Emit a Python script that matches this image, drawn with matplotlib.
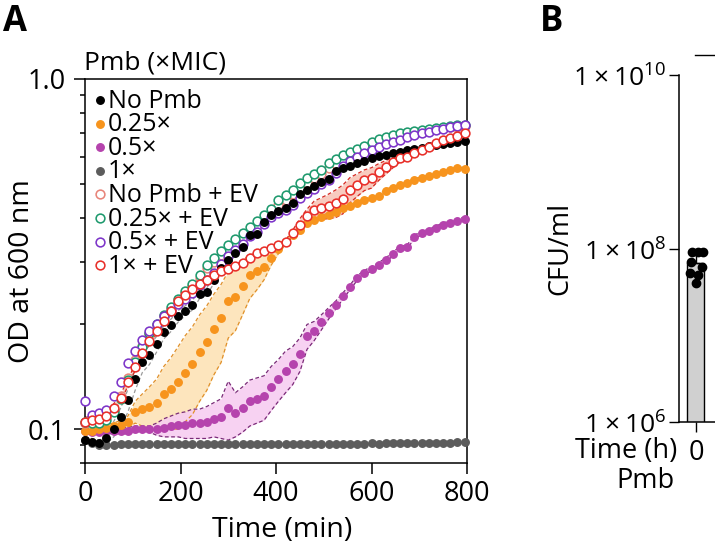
import numpy as np
import matplotlib
matplotlib.use("Agg")
import matplotlib.pyplot as plt
from matplotlib.lines import Line2D
from matplotlib.ticker import FixedLocator, FixedFormatter, NullFormatter

plt.rcParams['font.family'] = ['Open Sans', 'DejaVu Sans']
plt.rcParams['mathtext.fontset'] = 'custom'
plt.rcParams['mathtext.rm'] = 'Open Sans'
plt.rcParams['axes.linewidth'] = 1.1

# ---- panel A data: OD600 read every 15 min ----
time_min = list(range(0, 800, 15))

no_pmb = [0.093, 0.092, 0.091, 0.094, 0.100, 0.108, 0.121, 0.139, 0.155, 0.163,
          0.175, 0.189, 0.198, 0.210, 0.218, 0.226, 0.243, 0.247, 0.267, 0.288,
          0.305, 0.319, 0.332, 0.358, 0.360, 0.390, 0.410, 0.421, 0.429, 0.443,
          0.470, 0.483, 0.495, 0.509, 0.518, 0.545, 0.557, 0.565, 0.576, 0.582,
          0.593, 0.601, 0.608, 0.614, 0.620, 0.626, 0.632, 0.637, 0.642, 0.647,
          0.652, 0.657, 0.661, 0.665]
pmb_025 = [0.099, 0.099, 0.100, 0.101, 0.102, 0.103, 0.105, 0.112, 0.114, 0.116,
           0.119, 0.126, 0.130, 0.136, 0.145, 0.153, 0.166, 0.177, 0.193, 0.207,
           0.232, 0.239, 0.257, 0.276, 0.282, 0.291, 0.309, 0.327, 0.343, 0.359,
           0.371, 0.389, 0.395, 0.404, 0.410, 0.418, 0.429, 0.433, 0.443, 0.450,
           0.458, 0.463, 0.480, 0.489, 0.497, 0.505, 0.516, 0.521, 0.527, 0.535,
           0.541, 0.549, 0.557, 0.554]
pmb_05 = [0.099, 0.098, 0.098, 0.099, 0.099, 0.099, 0.099, 0.100, 0.100, 0.100,
          0.100, 0.101, 0.102, 0.103, 0.103, 0.104, 0.104, 0.105, 0.107, 0.108,
          0.115, 0.111, 0.115, 0.120, 0.122, 0.124, 0.132, 0.139, 0.147, 0.153,
          0.164, 0.184, 0.191, 0.202, 0.214, 0.226, 0.240, 0.254, 0.270, 0.280,
          0.287, 0.295, 0.304, 0.317, 0.328, 0.332, 0.354, 0.363, 0.369, 0.376,
          0.384, 0.389, 0.394, 0.399]
pmb_1 = [0.093, 0.091, 0.0900, 0.0898, 0.0902, 0.0905, 0.0904, 0.0905, 0.0906, 0.0905,
         0.0905, 0.0906, 0.0905, 0.0906, 0.0906, 0.0905, 0.0906, 0.0906, 0.0907, 0.0906,
         0.0906, 0.0907, 0.0906, 0.0907, 0.0907, 0.0906, 0.0907, 0.0907, 0.0908, 0.0907,
         0.0907, 0.0908, 0.0908, 0.0907, 0.0908, 0.0908, 0.0909, 0.0908, 0.0909, 0.0909,
         0.0910, 0.0909, 0.0910, 0.0910, 0.0911, 0.0911, 0.0912, 0.0912, 0.0913, 0.0913,
         0.0914, 0.0915, 0.0916, 0.0917]
no_pmb_ev = [0.104, 0.105, 0.106, 0.108, 0.113, 0.124, 0.140, 0.157, 0.173, 0.187,
             0.198, 0.210, 0.221, 0.233, 0.245, 0.257, 0.271, 0.288, 0.300, 0.314,
             0.327, 0.340, 0.353, 0.368, 0.383, 0.398, 0.414, 0.436, 0.452, 0.468,
             0.487, 0.504, 0.520, 0.535, 0.556, 0.573, 0.588, 0.603, 0.617, 0.628,
             0.643, 0.656, 0.668, 0.680, 0.688, 0.695, 0.701, 0.707, 0.713, 0.718,
             0.723, 0.727, 0.731, 0.735]
pmb_025_ev = [0.105, 0.104, 0.104, 0.106, 0.112, 0.122, 0.138, 0.155, 0.172, 0.188,
              0.200, 0.212, 0.223, 0.236, 0.248, 0.260, 0.275, 0.295, 0.308, 0.322,
              0.335, 0.348, 0.362, 0.378, 0.393, 0.408, 0.425, 0.450, 0.465, 0.482,
              0.503, 0.522, 0.536, 0.550, 0.575, 0.590, 0.605, 0.620, 0.633, 0.642,
              0.660, 0.672, 0.683, 0.694, 0.700, 0.705, 0.710, 0.716, 0.721, 0.726,
              0.730, 0.734, 0.737, 0.740]
pmb_05_ev = [0.120, 0.110, 0.111, 0.113, 0.124, 0.136, 0.154, 0.167, 0.180, 0.190,
             0.200, 0.210, 0.218, 0.228, 0.236, 0.245, 0.258, 0.266, 0.280, 0.296,
             0.312, 0.325, 0.338, 0.356, 0.365, 0.385, 0.403, 0.414, 0.423, 0.436,
             0.458, 0.472, 0.486, 0.500, 0.515, 0.540, 0.565, 0.585, 0.600, 0.615,
             0.628, 0.640, 0.651, 0.661, 0.671, 0.681, 0.690, 0.699, 0.707, 0.714,
             0.721, 0.727, 0.734, 0.740]
pmb_1_ev = [0.105, 0.106, 0.107, 0.109, 0.115, 0.123, 0.136, 0.150, 0.165, 0.178,
            0.190, 0.203, 0.218, 0.232, 0.242, 0.252, 0.260, 0.266, 0.276, 0.282,
            0.287, 0.292, 0.299, 0.309, 0.318, 0.322, 0.328, 0.335, 0.343, 0.362,
            0.384, 0.405, 0.423, 0.428, 0.434, 0.442, 0.455, 0.483, 0.499, 0.515,
            0.523, 0.543, 0.560, 0.578, 0.595, 0.600, 0.616, 0.628, 0.640, 0.655,
            0.668, 0.679, 0.688, 0.700]

# standard deviations (shaded bands)
sd_no_pmb = [0.002, 0.002, 0.002, 0.003, 0.005, 0.007, 0.009, 0.010, 0.010, 0.010,
             0.009, 0.008, 0.008, 0.008, 0.007, 0.007, 0.007, 0.006, 0.006, 0.006,
             0.006, 0.006, 0.006, 0.006, 0.006, 0.006, 0.006, 0.006, 0.006, 0.006,
             0.006, 0.006, 0.006, 0.006, 0.006, 0.006, 0.006, 0.006, 0.006, 0.006,
             0.006, 0.006, 0.006, 0.006, 0.006, 0.006, 0.006, 0.006, 0.006, 0.006,
             0.006, 0.006, 0.006, 0.006]
sd_025 = [0.002, 0.002, 0.002, 0.002, 0.002, 0.003, 0.004, 0.008, 0.012, 0.016,
          0.020, 0.025, 0.030, 0.036, 0.040, 0.043, 0.046, 0.048, 0.050, 0.052,
          0.050, 0.048, 0.045, 0.040, 0.032, 0.024, 0.015, 0.010, 0.006, 0.004,
          0.004, 0.004, 0.004, 0.004, 0.004, 0.004, 0.004, 0.004, 0.004, 0.004,
          0.004, 0.004, 0.004, 0.004, 0.004, 0.004, 0.004, 0.004, 0.004, 0.004,
          0.004, 0.004, 0.004, 0.004]
sd_05 = [0.002, 0.002, 0.002, 0.002, 0.002, 0.002, 0.002, 0.002, 0.002, 0.002,
         0.004, 0.006, 0.007, 0.008, 0.009, 0.010, 0.010, 0.011, 0.012, 0.014,
         0.022, 0.016, 0.017, 0.018, 0.018, 0.018, 0.019, 0.019, 0.020, 0.019,
         0.018, 0.015, 0.012, 0.010, 0.008, 0.006, 0.005, 0.004, 0.004, 0.004,
         0.004, 0.004, 0.004, 0.004, 0.004, 0.004, 0.004, 0.004, 0.004, 0.004,
         0.004, 0.004, 0.004, 0.004]
sd_1_ev = [0.003, 0.003, 0.003, 0.003, 0.003, 0.003, 0.003, 0.003, 0.003, 0.003,
           0.003, 0.003, 0.003, 0.003, 0.003, 0.003, 0.003, 0.003, 0.003, 0.003,
           0.003, 0.003, 0.003, 0.003, 0.003, 0.003, 0.003, 0.003, 0.003, 0.008,
           0.015, 0.020, 0.025, 0.030, 0.035, 0.040, 0.043, 0.040, 0.037, 0.035,
           0.035, 0.030, 0.025, 0.020, 0.015, 0.010, 0.008, 0.006, 0.005, 0.005,
           0.005, 0.005, 0.005, 0.005]

legend_labels = ['No Pmb', '0.25×', '0.5×', '1×',
                 'No Pmb + EV', '0.25× + EV', '0.5× + EV', '1× + EV']

# ---- panel B data: CFU/ml at time 0 ----
cfu_time0 = [9.1e7, 9.2e7, 9.1e7, 6.9e7, 6.1e7, 5.2e7, 4.9e7, 4.0e7]

W, H = 715, 550


def px(x, y):
    return x / W, 1 - y / H


fig = plt.figure(figsize=(W / 100, H / 100), dpi=100)

# ================= panel A =================
ax = fig.add_axes([85 / W, (H - 463) / H, 382 / W, 384 / H])
ax.set_yscale('log')
ax.set_ylim(0.08, 1.0)
ax.set_xlim(0, 800)

t = np.array(time_min)

# shaded SD bands with dashed edges
bands = [
    (no_pmb, sd_no_pmb, None, '#9a9a9a'),
    (pmb_025, sd_025, '#fde3b6', '#e0902a'),
    (pmb_05, sd_05, '#f7cdf1', '#7a2a78'),
    (pmb_1_ev, sd_1_ev, '#f8c6b8', '#d42a22'),
]
for mean, sd, fill, edge in bands:
    m = np.array(mean)
    s = np.array(sd)
    if fill is not None:
        ax.fill_between(t, m - s, m + s, color=fill, lw=0, alpha=0.9, zorder=1)
    ax.plot(t, m + s, ls=(0, (3, 2)), color=edge, lw=0.9, zorder=2)
    ax.plot(t, m - s, ls=(0, (3, 2)), color=edge, lw=0.9, zorder=2)

series = [
    (pmb_1, '#5c5c5c', True, 3),
    (pmb_05, '#b543ad', True, 3),
    (pmb_025, '#f7941d', True, 3),
    (no_pmb_ev, '#e8857a', False, 4),
    (pmb_025_ev, '#1f9a6e', False, 4),
    (pmb_05_ev, '#7d35c9', False, 4),
    (no_pmb, '#000000', True, 5),
    (pmb_1_ev, '#e8302a', False, 6),
]
for vals, col, filled, z in series:
    if filled:
        ax.plot(t, vals, 'o', ms=5.4, color=col, mec=col, zorder=z, clip_on=False)
    else:
        ax.plot(t, vals, 'o', ms=6.3, mfc='white', mec=col, mew=1.15, zorder=z,
                clip_on=False)

ax.xaxis.set_major_locator(FixedLocator([0, 200, 400, 600, 800]))
ax.yaxis.set_major_locator(FixedLocator([0.1, 1.0]))
ax.yaxis.set_major_formatter(FixedFormatter(['0.1', '1.0']))
ax.yaxis.set_minor_locator(FixedLocator([0.08, 0.09, 0.2, 0.3, 0.4, 0.5, 0.6, 0.7, 0.8, 0.9]))
ax.yaxis.set_minor_formatter(NullFormatter())
ax.tick_params(which='major', length=8, width=1.1, labelsize=19.5, pad=6)
ax.tick_params(which='minor', length=3.5, width=1.1)
ax.tick_params(axis='x', pad=4)

fig.text(*px(22, 271), 'OD at 600 nm', rotation=90, ha='center', va='center', fontsize=20.5)
fig.text(*px(282, 530), 'Time (min)', ha='center', va='center', fontsize=20.5)

# legend drawn by hand to match the tight stacking
leg_colors = ['#000000', '#f7941d', '#b543ad', '#5c5c5c',
              '#e8857a', '#1f9a6e', '#7d35c9', '#e8302a']
leg_filled = [True, True, True, True, False, False, False, False]
fig.text(*px(84, 63), 'Pmb (×MIC)', ha='left', va='center', fontsize=19)
for i, (lab, col, filled) in enumerate(zip(legend_labels, leg_colors, leg_filled)):
    y = 100 + 23.6 * i
    mx, my = px(100, y)
    if filled:
        fig.add_artist(Line2D([mx], [my], marker='o', ms=5.4, color=col, ls='none'))
    else:
        fig.add_artist(Line2D([mx], [my], marker='o', ms=6.3, mfc='white', mec=col,
                              mew=1.15, ls='none'))
    fig.text(*px(108, y + 1), lab, ha='left', va='center', fontsize=18)

fig.text(*px(3, 22), 'A', ha='left', va='center', fontsize=25, fontweight='bold')

# ================= panel B =================
axB = fig.add_axes([679 / W, (H - 422) / H, 61 / W, 347 / H])
axB.set_yscale('log')
axB.set_ylim(1e6, 1e10)
axB.set_xlim(-1, 2.6)
cfu = np.array(cfu_time0)
axB.bar([0], [cfu.mean()], width=1.0, color='#d0d0d0', edgecolor='black', lw=1.0, zorder=1)
axB.errorbar([0], [cfu.mean()], yerr=[[0], [cfu.std()]], color='black', lw=1.0,
             capsize=3, zorder=2)
jitter = [-0.25, 0.1, 0.4, -0.3, 0.35, -0.35, 0.1, 0.0]
axB.plot(np.array(jitter), cfu, 'o', ms=6, color='black', zorder=3, clip_on=False)
for s in ['top', 'right']:
    axB.spines[s].set_visible(False)
axB.yaxis.set_major_locator(FixedLocator([1e6, 1e8, 1e10]))
axB.yaxis.set_major_formatter(FixedFormatter([r'$1\times10^{6}$', r'$1\times10^{8}$',
                                              r'$1\times10^{10}$']))
axB.yaxis.set_minor_locator(FixedLocator([]))
axB.set_xticks([0])
axB.set_xticklabels(['0'])
axB.tick_params(which='major', length=7, width=1.0, labelsize=19.5, pad=5)
axB.tick_params(axis='y', labelsize=19, pad=2)
for lab in axB.get_yticklabels():
    lab.set_verticalalignment('center_baseline')

fig.text(*px(677, 451), 'Time (h)', ha='right', va='center', fontsize=19.5)
fig.text(*px(645, 481), 'Pmb', ha='center', va='center', fontsize=19.5)
fig.text(*px(560, 248), 'CFU/ml', rotation=90, ha='center', va='center', fontsize=19.5)
fig.text(*px(540, 22), 'B', ha='left', va='center', fontsize=25, fontweight='bold')
fig.add_artist(Line2D([695 / W, 1.0], [1 - 55 / H] * 2, color='black', lw=1.0))

fig.savefig('out.png', dpi=100)
